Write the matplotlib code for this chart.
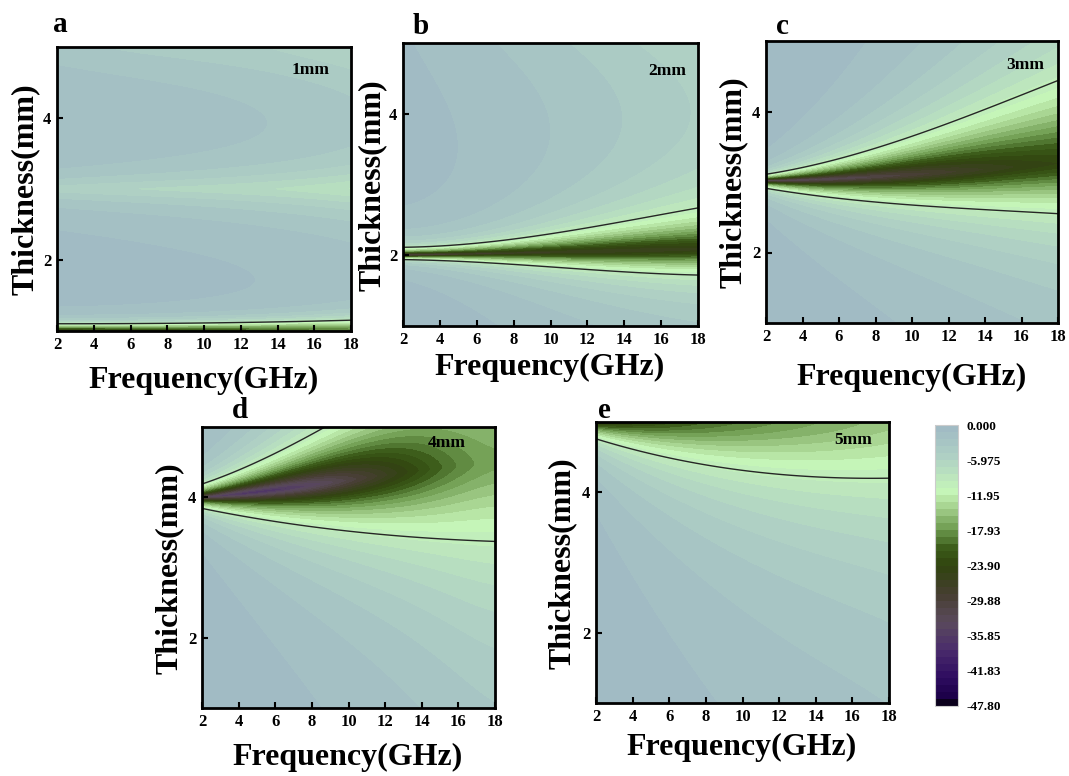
import numpy as np
import matplotlib.pyplot as plt
from matplotlib.colors import LinearSegmentedColormap

plt.rcParams['font.family'] = ['Liberation Serif', 'DejaVu Serif']
plt.rcParams['font.weight'] = 'bold'

# frequencies (GHz) at which the maps were read
freq_knots = [2, 6, 10, 14, 18]
panel_tags = ['a', 'b', 'c', 'd', 'e']
panel_notes = ['1mm', '2mm', '3mm', '4mm', '5mm']

# thickness of the main absorption band (mm)
band_centre = [
    [0.99, 0.99, 0.99, 0.99, 0.99],
    [2.00, 2.02, 2.04, 2.06, 2.08],
    [3.02, 3.05, 3.10, 3.18, 3.26],
    [4.00, 4.10, 4.25, 4.38, 4.50],
    [5.00, 5.00, 5.00, 5.02, 5.05],
]
# deepest reflection loss along the band (dB)
band_peak = [
    [-25, -24, -22, -20, -18],
    [-34, -28, -26, -25, -24],
    [-33, -32, -30, -26, -24],
    [-33, -37, -30, -23, -17],
    [-26, -22, -19, -17, -15],
]
# thickness of the -10 dB line under / over the band (mm)
edge_low = [
    [0.88, 0.88, 0.87, 0.86, 0.84],
    [1.94, 1.91, 1.85, 1.80, 1.77],
    [2.91, 2.77, 2.67, 2.61, 2.55],
    [3.84, 3.66, 3.51, 3.43, 3.37],
    [4.76, 4.49, 4.31, 4.22, 4.20],
]
edge_high = [
    [1.10, 1.10, 1.11, 1.12, 1.14],
    [2.11, 2.16, 2.28, 2.42, 2.56],
    [3.11, 3.33, 3.65, 4.03, 4.44],
    [4.19, 4.62, 5.20, 5.80, 6.40],
    [5.24, 5.51, 5.69, 5.82, 5.90],
]
band_shape = [2.5, 1.5, 1.5, 1.5, 1.5]

# weaker higher-order bands: thickness (mm), depth (dB), half width (mm)
extra_centre = [[3.0, 5.0], [6.0], [], [], []]
extra_peak = [
    [[-5.0, -5.5, -6.0, -6.5, -7.5], [-3.0, -3.5, -4.0, -4.5, -5.5]],
    [[-1.5, -3.0, -4.5, -6.0, -7.5]],
    [], [], [],
]
extra_width = [
    [[0.22, 0.24, 0.27, 0.30, 0.33], [0.50, 0.55, 0.60, 0.65, 0.70]],
    [[1.5, 1.5, 1.5, 1.5, 1.5]],
    [], [], [],
]

cbar_ticks = [0.0, -5.975, -11.95, -17.93, -23.90, -29.88, -35.85, -41.83, -47.80]
cbar_labels = ['0.000', '-5.975', '-11.95', '-17.93', '-23.90', '-29.88',
               '-35.85', '-41.83', '-47.80']

cmap = LinearSegmentedColormap.from_list('rl', [
    (0.00, '#000000'), (0.03, '#1c0048'), (0.10, '#2e0c60'),
    (0.20, '#4a2c6c'), (0.30, '#5a4a5c'), (0.40, '#463e30'),
    (0.50, '#30440e'), (0.56, '#3c5c1a'), (0.63, '#6e9c50'),
    (0.70, '#a0cc88'), (0.76, '#c6f6b8'), (0.88, '#b0d2c4'),
    (1.00, '#9fb8c4'),
])
levels = np.linspace(-47.8, 0, 41)

freq = np.linspace(2, 18, 321)
thick = np.linspace(1, 5, 401)
F, D = np.meshgrid(freq, thick)
tail_p = 1.5


def along_f(vals):
    return np.polyval(np.polyfit(freq_knots, vals, 3), freq)[None, :]


def rl_map(i):
    p = band_shape[i]
    c = along_f(band_centre[i])
    pk = along_f(band_peak[i])
    lo = along_f(edge_low[i])
    hi = along_f(edge_high[i])
    s = D - c
    s10 = np.where(s < 0, c - lo, hi - c)
    w = s10 / (np.abs(pk) / 10 - 1) ** (1 / p)
    rl = pk / (1 + np.abs(s / w) ** p)
    for ec, ep, ew in zip(extra_centre[i], extra_peak[i], extra_width[i]):
        rl = rl + along_f(ep) / (1 + np.abs((D - ec) / along_f(ew)) ** tail_p)
    return np.clip(rl, -47.8, 0)


W, H = 1069, 776
fig = plt.figure(figsize=(W / 100, H / 100), dpi=100)


def px_rect(l, t, r, b):
    return [l / W, 1 - b / H, (r - l) / W, (b - t) / H]


axes_px = [(57, 47, 351, 331), (403, 43, 698, 326), (766, 41, 1058, 323),
           (202, 427, 495, 708), (596, 422, 889, 703)]
xlabel_px = [(204, 380), (550, 367), (912, 377), (348, 757), (742, 747)]
ylabel_px = [(25, 189), (372, 185), (733, 182), (169, 568), (562, 563)]
tag_px = [(60, 25), (421, 27), (782, 27), (240, 411), (604, 410)]
note_pos = [(0.864, 0.919), (0.895, 0.90), (0.887, 0.915), (0.836, 0.943), (0.877, 0.936)]

for i in range(5):
    ax = fig.add_axes(px_rect(*axes_px[i]))
    z = rl_map(i)
    cs = ax.contourf(F, D, z, levels=levels, cmap=cmap)
    ax.contour(F, D, z, levels=[-10], colors='#262626', linewidths=1.0,
               linestyles='solid')
    ax.set_xlim(2, 18)
    ax.set_ylim(1, 5)
    ax.set_xticks(range(2, 19, 2))
    ax.set_yticks([2, 4])
    ax.tick_params(direction='in', length=4, width=1.5, labelsize=12, pad=4,
                   top=False, right=False)
    for sp in ax.spines.values():
        sp.set_linewidth(2)
    ax.text(*note_pos[i], panel_notes[i], transform=ax.transAxes, fontsize=12.5,
            fontweight='bold', ha='center', va='center')
    fig.text(xlabel_px[i][0] / W, 1 - xlabel_px[i][1] / H, 'Frequency(GHz)',
             fontsize=23, fontweight='bold', ha='center', va='center')
    fig.text(ylabel_px[i][0] / W, 1 - ylabel_px[i][1] / H, 'Thickness(mm)',
             fontsize=23, fontweight='bold', ha='center', va='center', rotation=90)
    fig.text(tag_px[i][0] / W, 1 - tag_px[i][1] / H, panel_tags[i],
             fontsize=21, fontweight='bold', ha='center', va='center')

cax = fig.add_axes(px_rect(935, 425, 958, 706))
cb = fig.colorbar(cs, cax=cax, ticks=cbar_ticks)
cb.ax.set_yticklabels(cbar_labels)
cb.ax.tick_params(length=0, labelsize=9.5, pad=6)
cb.outline.set_edgecolor('#cccccc')
cb.outline.set_linewidth(0.8)

fig.savefig('out.png', dpi=100)
